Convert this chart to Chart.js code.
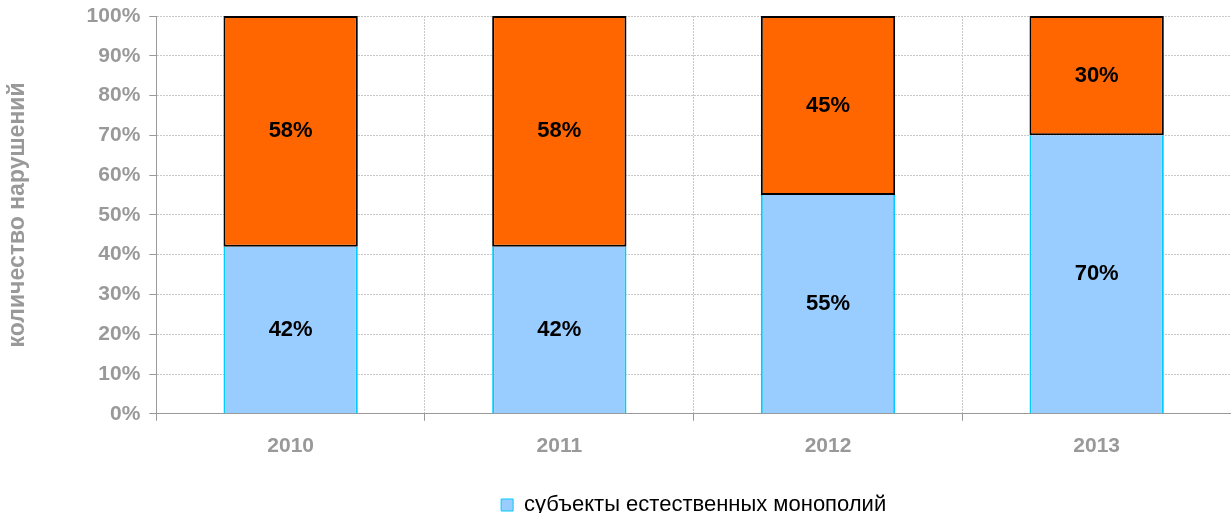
<!DOCTYPE html>
<html>
<head>
<meta charset="utf-8">
<script src="https://cdn.jsdelivr.net/npm/chart.js@4/dist/chart.umd.min.js"></script>
<style>
  html, body { margin: 0; padding: 0; background: #fff; }
  #wrap { width: 1231px; height: 513px; }
</style>
</head>
<body>
<div id="wrap"><canvas id="chart" width="1231" height="513"></canvas></div>
<script>
// Datos del gráfico
const years = ['2010', '2011', '2012', '2013'];
const monopolias = [42, 42, 55, 70];   // субъекты естественных монополий
const otros = [58, 58, 45, 30];        // resto
const yTicks = [0, 10, 20, 30, 40, 50, 60, 70, 80, 90, 100];

const fontFamily = 'Arial, "Liberation Sans", sans-serif';

// Etiquetas en el centro de cada barra
const etiquetasPlugin = {
    id: 'etiquetas',
    afterDatasetsDraw(chart) {
        const ctx = chart.ctx;
        ctx.save();
        ctx.font = 'bold 22px ' + fontFamily;
        ctx.fillStyle = '#000';
        ctx.textAlign = 'center';
        ctx.textBaseline = 'middle';
        chart.data.datasets.forEach((ds, i) => {
            chart.getDatasetMeta(i).data.forEach((bar, j) => {
                ctx.fillText(ds.data[j] + '%', bar.x, (bar.y + bar.base) / 2);
            });
        });
        ctx.restore();
    }
};

const gridColor = '#c8c8c8';

new Chart(document.getElementById('chart'), {
    type: 'bar',
    data: {
        labels: years,
        datasets: [{
            label: 'субъекты естественных монополий',
            data: monopolias,
            backgroundColor: '#99ccff',
            borderColor: '#00ccff',
            borderWidth: { left: 2, right: 2, top: 0, bottom: 0 },
            borderSkipped: false,
            barPercentage: 0.5,
            categoryPercentage: 1
        }, {
            label: 'прочие',
            data: otros,
            backgroundColor: '#ff6600',
            borderColor: '#000000',
            borderWidth: 2,
            borderSkipped: false,
            barPercentage: 0.5,
            categoryPercentage: 1
        }]
    },
    options: {
        responsive: false,
        animation: false,
        layout: { padding: { left: 0, right: 0, top: 0, bottom: -13 } },
        plugins: {
            legend: {
                position: 'bottom',
                fullSize: false,
                labels: {
                    filter: item => item.datasetIndex === 0,
                    boxWidth: 12,
                    boxHeight: 12,
                    color: '#000',
                    padding: 2,
                    font: { family: fontFamily, size: 22 }
                }
            },
            tooltip: { enabled: false }
        },
        scales: {
            x: {
                stacked: true,
                afterFit: axis => { axis.height += 20; },
                grid: {
                    color: gridColor,
                    tickLength: 7,
                    tickColor: '#999'
                },
                border: { color: '#999', dash: [2, 1] },
                ticks: {
                    color: '#999',
                    padding: 13,
                    font: { family: fontFamily, size: 21, weight: 'bold' }
                }
            },
            y: {
                stacked: true,
                min: 0,
                max: 100,
                afterBuildTicks: axis => { axis.ticks = yTicks.map(v => ({ value: v })); },
                afterFit: axis => { axis.paddingTop = 16; },
                grid: {
                    color: gridColor,
                    tickLength: 7,
                    tickColor: '#999'
                },
                border: { color: '#999', dash: [2, 1] },
                ticks: {
                    color: '#999',
                    padding: 9,
                    callback: v => v + '%',
                    font: { family: fontFamily, size: 21, weight: 'bold' }
                },
                title: {
                    display: true,
                    text: 'количество нарушений',
                    color: '#999',
                    padding: { top: 4, bottom: 46 },
                    font: { family: fontFamily, size: 23, weight: 'bold' }
                }
            }
        }
    },
    plugins: [etiquetasPlugin]
});
</script>
</body>
</html>
